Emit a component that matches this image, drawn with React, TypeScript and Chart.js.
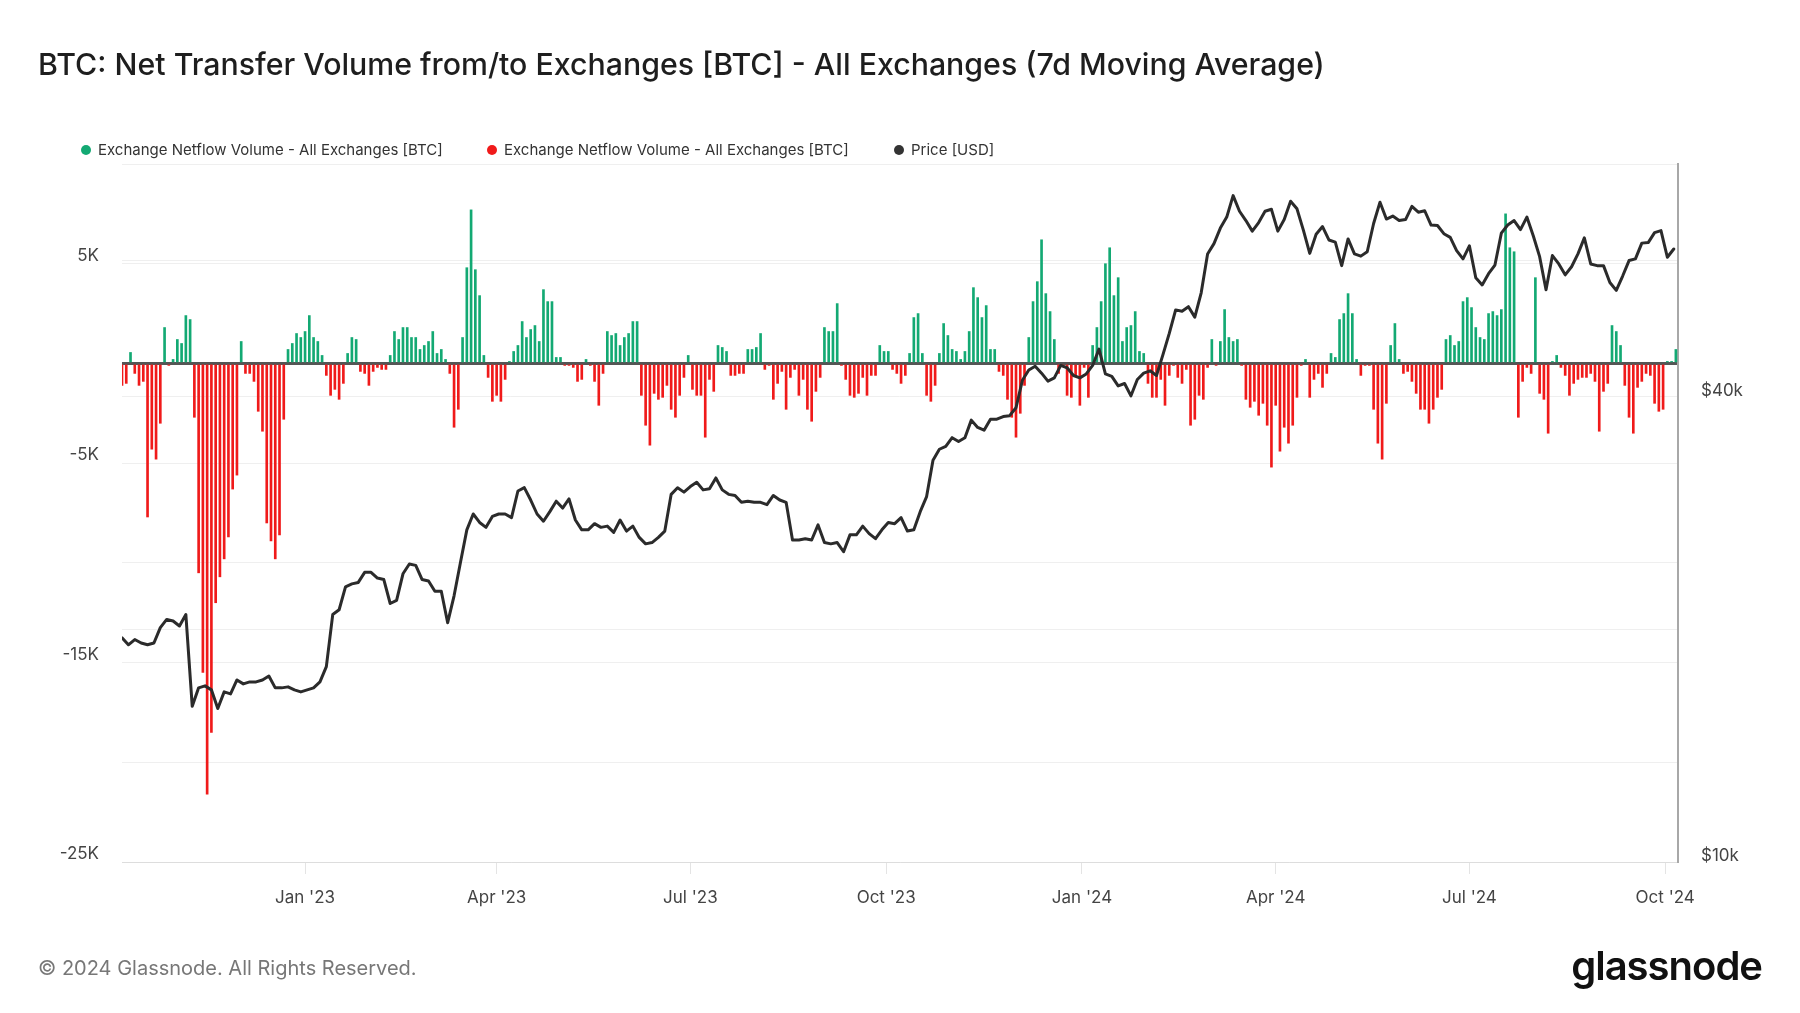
import React, { useEffect, useRef } from "react";
import { Chart, registerables } from "chart.js";

Chart.register(...registerables);

// Day 0 = 7 Oct 2022. Flow values every 2 days, in thousands of BTC (7d MA netflow).
const FLOW_STEP_DAYS = 2;
const netflowK = [
  -1.1, -1.0, 0.55, -0.5, -1.1, -0.9, -7.7, -4.3, -4.8, -3.0,
  1.8, -0.1, 0.2, 1.2, 1.0, 2.4, 2.2, -2.7, -10.5, -15.5,
  -21.6, -18.5, -12.0, -10.7, -9.8, -8.7, -6.3, -5.6, 1.1, -0.5,
  -0.5, -0.9, -2.4, -3.4, -8.0, -8.9, -9.8, -8.6, -2.8, 0.7,
  1.0, 1.5, 1.3, 1.6, 2.4, 1.3, 1.1, 0.4, -0.6, -1.6,
  -1.3, -1.8, -1.0, 0.5, 1.3, 1.2, -0.4, -0.5, -1.1, -0.4,
  -0.2, -0.3, -0.3, 0.4, 1.6, 1.2, 1.8, 1.8, 1.3, 1.3,
  0.7, 0.9, 1.1, 1.6, 0.5, 0.7, 0.2, -0.5, -3.2, -2.3,
  1.3, 4.8, 7.7, 4.7, 3.4, 0.4, -0.7, -1.9, -1.6, -1.9,
  -0.8, 0.1, 0.6, 0.9, 2.1, 1.3, 1.7, 1.9, 1.1, 3.7,
  3.1, 3.1, 0.3, 0.3, -0.1, -0.1, -0.2, -0.9, -0.8, 0.2,
  -0.1, -0.9, -2.1, -0.5, 1.6, 1.4, 1.5, 0.9, 1.3, 1.5,
  2.1, 2.1, -1.6, -3.1, -4.1, -1.5, -1.8, -1.7, -1.1, -2.3,
  -2.7, -1.6, -0.7, 0.4, -1.3, -1.6, -1.6, -3.7, -0.8, -1.4,
  0.9, 0.8, 0.6, -0.6, -0.6, -0.5, -0.5, 0.7, 0.7, 0.8,
  1.5, -0.3, -0.1, -1.8, -1.0, -0.4, -2.3, -0.7, -0.3, -1.6,
  -0.8, -2.3, -2.9, -1.4, -0.7, 1.8, 1.6, 1.6, 3.0, -0.1,
  -0.8, -1.6, -1.7, -1.5, -0.7, -1.6, -0.6, -0.6, 0.9, 0.6,
  0.6, -0.3, -0.5, -1.0, -0.6, 0.5, 2.3, 2.5, 0.5, -1.6,
  -1.9, -1.1, 0.5, 2.0, 1.4, 0.7, 0.6, 0.2, 0.6, 1.6,
  3.8, 3.3, 2.3, 2.9, 0.7, 0.7, -0.4, -0.6, -1.8, -2.7,
  -3.7, -2.5, -1.1, 1.3, 3.1, 4.1, 6.2, 3.5, 2.6, 1.2,
  -0.5, -0.1, -1.6, -1.7, -0.6, -2.1, -0.2, -1.7, 0.9, 1.8,
  3.1, 5.0, 5.8, 3.4, 4.3, 1.1, 1.8, 1.9, 2.6, 0.6,
  0.5, -1.0, -1.7, -1.7, -0.8, -2.1, -0.6, -0.1, -0.7, -1.0,
  -0.3, -3.1, -2.8, -1.6, -1.8, -0.2, 1.2, -0.1, 1.1, 2.7,
  1.3, 1.1, 1.2, -0.1, -1.8, -2.2, -1.9, -2.6, -2.0, -3.1,
  -5.2, -2.1, -4.4, -3.2, -4.0, -3.1, -1.7, -0.1, 0.2, -1.7,
  -0.8, -0.5, -1.2, -0.5, 0.5, 0.3, 2.2, 2.5, 3.5, 2.5,
  0.2, -0.6, -0.1, -0.1, -2.3, -4.0, -4.8, -2.0, 0.9, 2.0,
  0.2, -0.5, -0.4, -0.9, -1.5, -2.3, -2.3, -3.0, -2.3, -1.7,
  -1.3, 1.2, 1.4, 0.9, 1.1, 3.1, 3.3, 2.8, 1.8, 1.3,
  1.2, 2.5, 2.6, 2.4, 2.7, 7.5, 5.8, 5.6, -2.7, -0.9,
  -0.2, -0.5, 4.3, -1.5, -1.8, -3.5, 0.1, 0.4, -0.2, -0.6,
  -1.6, -1.0, -0.8, -0.7, -0.7, -0.5, -0.9, -3.4, -1.4, -1.0,
  1.9, 1.6, 0.9, -1.1, -2.7, -3.5, -1.2, -0.9, -0.5, -0.6,
  -2.0, -2.4, -2.3, 0.1, 0.1, 0.7,
];

// BTC price every 3 days, in thousands of USD.
const PRICE_STEP_DAYS = 3;
const priceK = [
  19.5, 19.1, 19.4, 19.2, 19.1, 19.2, 20.1, 20.6, 20.5, 20.2,
  20.9, 15.9, 16.8, 16.9, 16.7, 15.8, 16.6, 16.5, 17.2, 17.0,
  17.1, 17.1, 17.2, 17.4, 16.8, 16.8, 16.85, 16.7, 16.6, 16.7,
  16.8, 17.1, 17.9, 20.9, 21.2, 22.7, 22.9, 23.0, 23.7, 23.7,
  23.3, 23.2, 21.6, 21.8, 23.6, 24.3, 24.2, 23.2, 23.1, 22.4,
  22.4, 20.4, 22.1, 24.4, 26.9, 28.2, 27.5, 27.1, 28.0, 28.2,
  28.2, 27.9, 30.2, 30.5, 29.4, 28.2, 27.6, 28.4, 29.3, 28.7,
  29.5, 27.7, 26.9, 26.9, 27.4, 27.1, 27.2, 26.7, 27.7, 26.8,
  27.2, 26.3, 25.8, 25.9, 26.3, 26.8, 29.9, 30.5, 30.1, 30.6,
  31.0, 30.3, 30.4, 31.4, 30.3, 29.9, 29.8, 29.2, 29.3, 29.2,
  29.2, 29.0, 29.8, 29.4, 29.2, 26.1, 26.1, 26.2, 26.1, 27.3,
  25.9, 25.8, 25.9, 25.2, 26.5, 26.5, 27.2, 26.6, 26.2, 26.9,
  27.5, 27.4, 27.9, 26.8, 26.9, 28.4, 29.7, 33.1, 34.2, 34.5,
  35.4, 35.0, 35.4, 37.3, 36.5, 36.2, 37.4, 37.4, 37.7, 37.8,
  38.7, 42.0, 43.3, 43.8, 42.9, 41.9, 42.3, 43.9, 43.6, 42.6,
  42.3, 42.8, 43.9, 46.1, 42.8, 42.5, 41.3, 41.6, 40.1, 42.1,
  42.9, 43.2, 42.6, 45.3, 48.3, 51.8, 51.6, 52.3, 50.7, 54.5,
  61.2, 63.1, 66.1, 68.3, 72.8, 69.5, 67.6, 65.5, 67.2, 69.5,
  69.9, 65.5, 67.8, 71.6, 70.0, 65.7, 61.3, 64.9, 66.4, 63.8,
  63.4, 59.1, 64.0, 61.2, 60.8, 61.6, 67.0, 71.4, 67.9, 68.5,
  67.6, 67.8, 70.5, 69.3, 69.6, 66.7, 66.6, 65.0, 64.3, 61.8,
  60.3, 62.7, 57.0, 55.8, 57.7, 59.2, 65.1, 66.7, 67.6, 65.8,
  68.3, 64.6, 60.7, 55.0, 60.9, 59.4, 57.5, 58.9, 61.2, 64.2,
  59.4, 59.1, 59.1, 56.2, 54.9, 57.3, 60.0, 60.3, 63.2, 63.3,
  65.2, 65.6, 60.6, 62.1,
];

const X_MAX_DAY = 731;
const monthTickDays = [86, 176, 267, 359, 451, 542, 633, 725];
const monthTickLabels = ["Jan '23", "Apr '23", "Jul '23", "Oct '23", "Jan '24", "Apr '24", "Jul '24", "Oct '24"];
const flowTickValues = [-25, -20, -15, -10, -5, 0, 5, 10];
const flowTickLabels = ["-25K", "", "-15K", "", "-5K", "", "5K", ""];
const priceTickValues = [10, 20, 40, 60, 80];
const priceTickLabels = ["$10k", "", "$40k", "", ""];

const TITLE = "BTC: Net Transfer Volume from/to Exchanges [BTC] - All Exchanges (7d Moving Average)";
const legendLabels = [
  "Exchange Netflow Volume - All Exchanges [BTC]",
  "Exchange Netflow Volume - All Exchanges [BTC]",
  "Price [USD]",
];

const GREEN = "#13a973";
const RED = "#f01a1a";
const PRICE_COLOR = "#2b2b2b";
const FONT = "Inter, 'Noto Sans', 'DejaVu Sans', sans-serif";

export default function App() {
  const ref = useRef<HTMLCanvasElement>(null);

  useEffect(() => {
    const canvas = ref.current;
    if (!canvas) return;
    const green: { x: number; y: number }[] = [];
    const red: { x: number; y: number }[] = [];
    netflowK.forEach((v, i) => {
      const p = { x: i * FLOW_STEP_DAYS, y: v };
      if (v >= 0) green.push(p);
      else red.push(p);
    });
    const price = priceK.map((v, i) => ({ x: i * PRICE_STEP_DAYS, y: v }));
    const tickFont = { family: FONT, size: 17 };

    const chart = new Chart(canvas, {
      type: "bar",
      data: {
        datasets: [
          {
            type: "line",
            label: "Price [USD]",
            data: price,
            yAxisID: "yPrice",
            borderColor: PRICE_COLOR,
            borderWidth: 3,
            pointRadius: 0,
            tension: 0,
            borderJoinStyle: "round",
            borderCapStyle: "round",
            order: 0,
          } as any,
          {
            type: "bar",
            label: "Netflow +",
            data: green,
            yAxisID: "yFlow",
            backgroundColor: GREEN,
            barThickness: 2,
            grouped: false,
            borderWidth: 0,
            order: 1,
          } as any,
          {
            type: "bar",
            label: "Netflow -",
            data: red,
            yAxisID: "yFlow",
            backgroundColor: RED,
            barThickness: 2,
            grouped: false,
            borderWidth: 0,
            order: 1,
          } as any,
        ],
      },
      options: {
        animation: false,
        responsive: false,
        maintainAspectRatio: false,
        devicePixelRatio: 1,
        layout: { padding: { top: 164, left: 0, right: 0, bottom: 0 } },
        plugins: { legend: { display: false }, tooltip: { enabled: false } },
        scales: {
          x: {
            type: "linear",
            min: 0,
            max: X_MAX_DAY,
            offset: false,
            afterBuildTicks: (s: any) => {
              s.ticks = monthTickDays.map((value) => ({ value }));
            },
            afterFit: (s: any) => {
              s.height = 151;
            },
            ticks: {
              autoSkip: false,
              maxRotation: 0,
              padding: 14,
              color: "#444",
              font: tickFont,
              callback: (_v: any, i: number) => monthTickLabels[i],
            },
            grid: { offset: false, drawOnChartArea: false, drawTicks: true, tickLength: 12, color: "#e4e4e4" },
            border: { display: true, color: "#dddddd", width: 1 },
          },
          yFlow: {
            type: "linear",
            position: "left",
            min: -25,
            max: 10,
            afterBuildTicks: (s: any) => {
              s.ticks = flowTickValues.map((value) => ({ value }));
            },
            afterFit: (s: any) => {
              s.width = 122;
            },
            ticks: {
              padding: 23,
              labelOffset: -8,
              color: "#444",
              font: tickFont,
              callback: (_v: any, i: number) => flowTickLabels[i],
            },
            grid: {
              drawTicks: false,
              color: (ctx: any) => (ctx.tick && ctx.tick.value === 0 ? "#555555" : "#efefef"),
              lineWidth: (ctx: any) => (ctx.tick && ctx.tick.value === 0 ? 3 : 1),
            },
            border: { display: false },
          },
          yPrice: {
            type: "logarithmic",
            position: "right",
            min: 10,
            max: 80,
            afterBuildTicks: (s: any) => {
              s.ticks = priceTickValues.map((value) => ({ value }));
            },
            afterFit: (s: any) => {
              s.width = 122;
            },
            ticks: {
              padding: 23,
              labelOffset: -6,
              color: "#444",
              font: tickFont,
              callback: (_v: any, i: number) => priceTickLabels[i],
            },
            grid: { drawTicks: false, color: "#efefef", lineWidth: 1 },
            border: { display: true, color: "#a8a8a8", width: 2 },
          },
        },
      } as any,
    });
    return () => chart.destroy();
  }, []);

  const legendColors = [GREEN, RED, "#333333"];
  const legendX = [81, 487, 894];

  return (
    <div
      style={{
        position: "absolute",
        left: 0,
        top: 0,
        width: 1800,
        height: 1013,
        background: "#ffffff",
        overflow: "hidden",
        fontFamily: FONT,
      }}
    >
      <canvas
        ref={ref}
        width={1800}
        height={1013}
        style={{ position: "absolute", left: 0, top: 0, width: 1800, height: 1013 }}
      />
      <div
        style={{
          position: "absolute",
          left: 38,
          top: 46,
          fontSize: 30.3,
          lineHeight: "36px",
          fontWeight: 500,
          color: "#1e1e1e",
          whiteSpace: "nowrap",
        }}
      >
        {TITLE}
      </div>
      {legendLabels.map((label, i) => (
        <div
          key={i}
          style={{
            position: "absolute",
            left: legendX[i],
            top: 140,
            height: 20,
            display: "flex",
            alignItems: "center",
            whiteSpace: "nowrap",
          }}
        >
          <span
            style={{
              display: "inline-block",
              width: 10,
              height: 10,
              borderRadius: 5,
              background: legendColors[i],
              marginRight: 7,
            }}
          />
          <span style={{ fontSize: 15, color: "#333", lineHeight: "20px" }}>{label}</span>
        </div>
      ))}
      <div
        style={{
          position: "absolute",
          left: 38,
          top: 955,
          fontSize: 20,
          lineHeight: "26px",
          color: "#777",
          whiteSpace: "nowrap",
        }}
      >
        © 2024 Glassnode. All Rights Reserved.
      </div>
      <div
        style={{
          position: "absolute",
          right: 38,
          top: 942,
          fontSize: 40,
          lineHeight: "48px",
          fontWeight: 600,
          letterSpacing: "-1px",
          color: "#111",
          whiteSpace: "nowrap",
        }}
      >
        glassnode
      </div>
    </div>
  );
}
